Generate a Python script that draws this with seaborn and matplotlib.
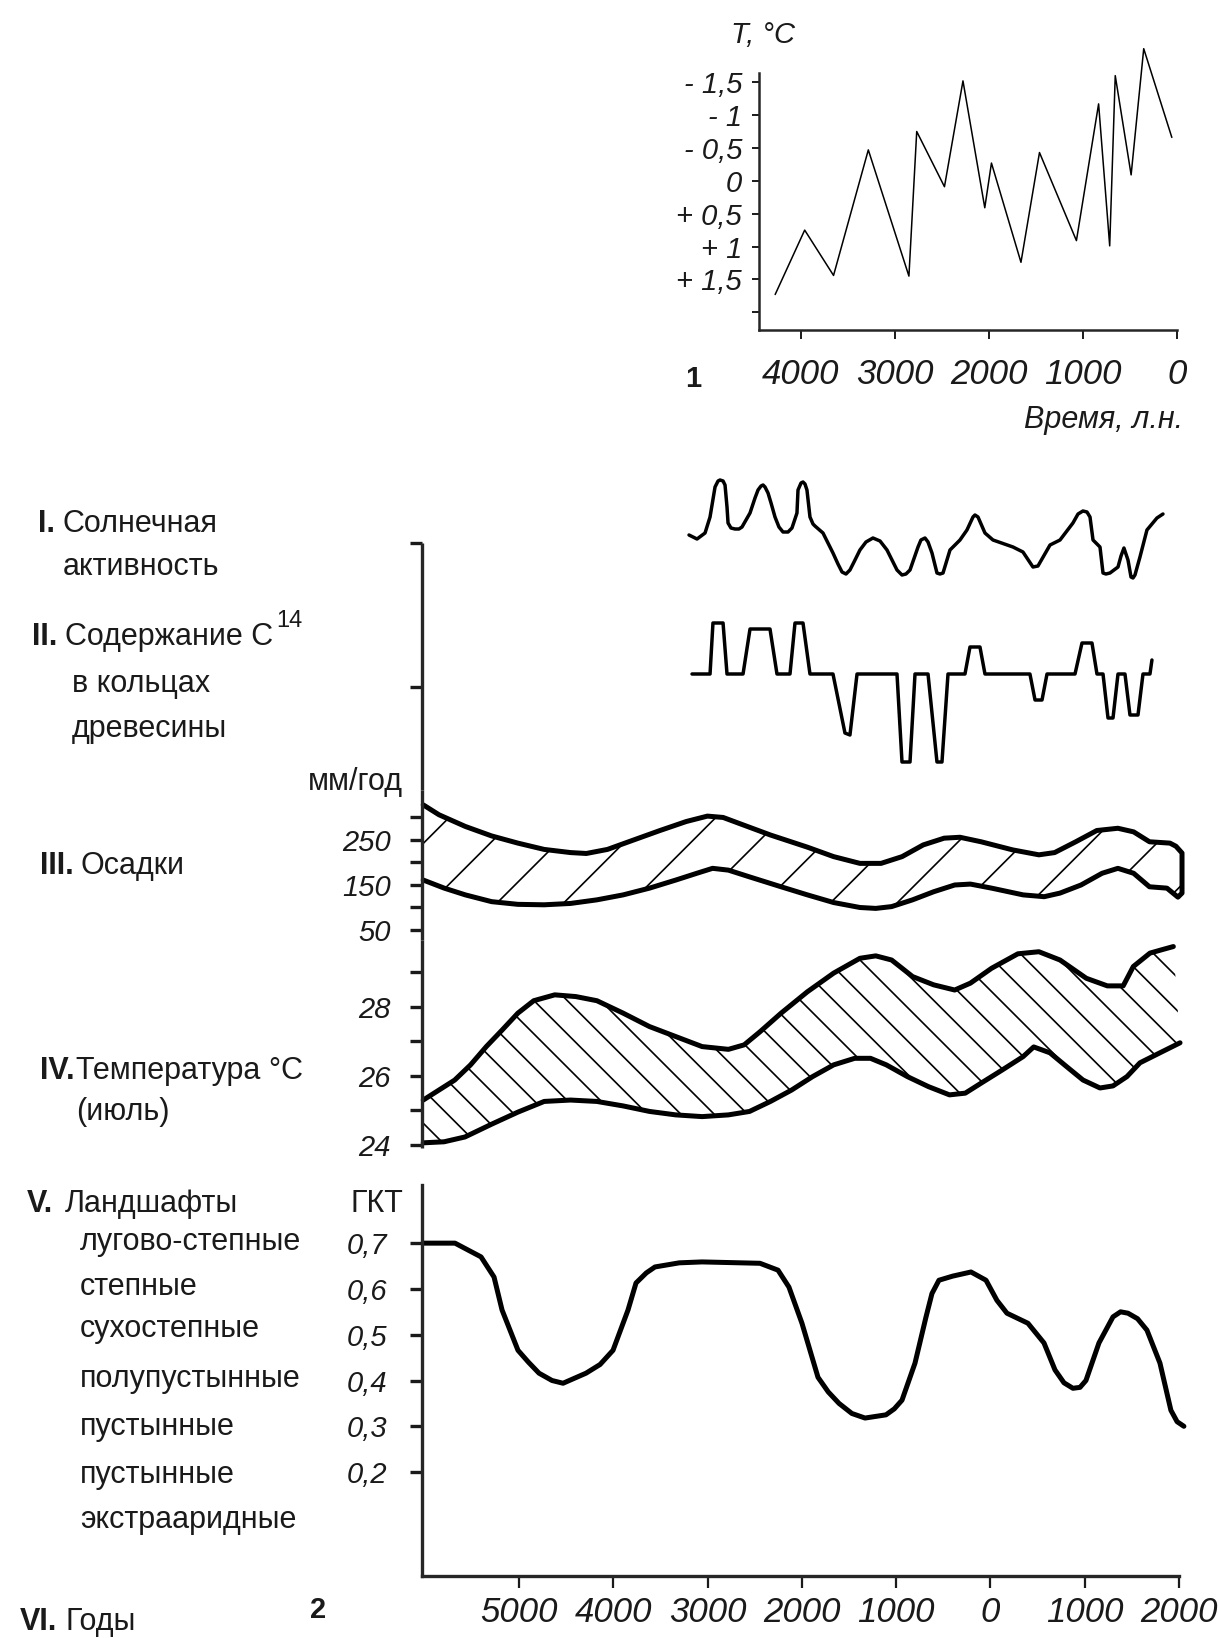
import matplotlib
matplotlib.use("Agg")
import matplotlib.pyplot as plt
import seaborn as sns
import numpy as np
from matplotlib import font_manager

# ---------- 1: temperature deviation, years BP ----------
t1_years = [4275, 3961, 3654, 3284, 2852, 2769, 2474, 2277, 2045, 1974,
            1660, 1463, 1070, 834, 716, 657, 488, 354, 55]
t1_temp = [1.73, 0.75, 1.44, -0.47, 1.45, -0.75, 0.09, -1.52, 0.41, -0.27,
           1.24, -0.43, 0.91, -1.17, 0.99, -1.60, -0.09, -2.01, -0.66]
t1_xticks = [4000, 3000, 2000, 1000, 0]
t1_yticks = [-1.5, -1.0, -0.5, 0.0, 0.5, 1.0, 1.5, 2.0]
t1_ylabels = ["- 1,5", "- 1", "- 0,5", "0", "+ 0,5", "+ 1", "+ 1,5", ""]

# ---------- 2: calendar years (BC negative) ----------
# I. solar activity (relative units)
sun_years = [-3197, -3112, -3027, -2974, -2921, -2889, -2868, -2836, -2815, -2794,
             -2783, -2752, -2709, -2667, -2635, -2550, -2497, -2465, -2433, -2412,
             -2391, -2359, -2327, -2285, -2243, -2200, -2147, -2105, -2052, -2041,
             -2009, -1988, -1967, -1946, -1914, -1882, -1861, -1776, -1670, -1617,
             -1574, -1532, -1490, -1447, -1384, -1320, -1246, -1171, -1097, -991,
             -938, -896, -853, -768, -737, -694, -662, -620, -567, -535,
             -503, -429, -323, -249, -185, -164, -132, -58, 27, 239,
             345, 451, 504, 632, 738, 875, 929, 981, 1024, 1056,
             1088, 1162, 1194, 1225, 1268, 1353, 1385, 1416, 1459, 1491,
             1512, 1533, 1586, 1660, 1766, 1830]
sun_vals = [4.5, 4.1, 4.7, 6.3, 9.3, 9.9, 10.0, 9.9, 9.5, 7.3,
            5.7, 5.2, 5.1, 5.1, 5.3, 6.7, 8.2, 9.0, 9.4, 9.5,
            9.3, 8.7, 7.7, 6.3, 5.3, 4.8, 4.8, 5.2, 6.7, 9.0,
            9.7, 9.8, 9.6, 9.0, 6.3, 5.6, 5.4, 4.7, 2.7, 1.6,
            0.8, 0.6, 1.0, 1.8, 3.0, 3.8, 4.2, 3.9, 3.0, 1.0,
            0.5, 0.6, 1.0, 3.3, 4.0, 4.2, 3.8, 2.7, 0.7, 0.6,
            0.7, 3.0, 4.0, 5.0, 6.3, 6.5, 6.3, 4.7, 4.0, 3.3,
            2.8, 1.3, 1.4, 3.5, 4.0, 5.7, 6.6, 6.9, 6.8, 6.3,
            4.0, 3.3, 0.7, 0.6, 0.7, 1.3, 2.4, 3.2, 2.0, 0.3,
            0.2, 0.5, 2.3, 5.0, 6.2, 6.6]

# II. C14 in tree rings (relative units)
c14_years = [-3165, -2974, -2943, -2836, -2794, -2624, -2550, -2338, -2264, -2126,
             -2073, -1988, -1914, -1670, -1543, -1490, -1415, -991, -938, -853,
             -800, -662, -567, -514, -450, -270, -217, -111, -58, 419,
             473, 547, 600, 897, 971, 1077, 1130, 1194, 1247, 1300,
             1353, 1427, 1480, 1565, 1618, 1692, 1713]
c14_vals = [0, 0, 5.1, 5.1, 0, 0, 4.5, 4.5, 0, 0,
            5.1, 5.1, 0, 0, -5.9, -6.1, 0, 0, -8.8, -8.8,
            0, 0, -8.8, -8.8, 0, 0, 2.7, 2.7, 0, 0,
            -2.6, -2.6, 0, 0, 3.1, 3.1, 0, 0, -4.4, -4.4,
            0, 0, -4.1, -4.1, 0, 0, 1.4]

# III. precipitation, mm/yr (upper and lower limits)
pr_up_years = [-6016, -5849, -5569, -5291, -5012, -4733, -4454, -4286, -4062, -3784,
               -3505, -3226, -3002, -2835, -2668, -2333, -1941, -1663, -1384, -1160,
               -937, -713, -491, -323, -99, 235, 514, 681, 905, 1128,
               1352, 1519, 1687, 1904, 1968, 2032]
pr_up = [328, 306, 280, 259, 243, 229, 222, 220, 229, 250,
         271, 291, 303, 300, 287, 261, 234, 213, 198, 198,
         213, 239, 254, 256, 246, 228, 217, 222, 246, 271,
         276, 268, 246, 243, 236, 221]
pr_lo_years = [-6016, -5793, -5569, -5291, -5012, -4733, -4454, -4174, -3896, -3616,
               -3337, -3114, -2947, -2779, -2555, -2220, -1941, -1663, -1384, -1216,
               -1048, -826, -602, -379, -212, 12, 347, 570, 738, 961,
               1184, 1352, 1519, 1687, 1872, 1936, 1989, 2032]
pr_lo = [161, 143, 128, 113, 107, 106, 109, 117, 128, 143,
         161, 176, 187, 183, 168, 146, 128, 111, 100, 98,
         102, 117, 135, 150, 152, 143, 128, 124, 132, 150,
         176, 187, 176, 146, 143, 132, 123, 132]

# IV. July temperature, deg C
tj_up_years = [-6016, -5849, -5682, -5514, -5347, -5179, -5012, -4844, -4621, -4398,
               -4174, -3896, -3616, -3337, -3058, -2779, -2612, -2444, -2220, -1941,
               -1663, -1384, -1216, -1048, -826, -602, -379, -212, 12, 291,
               514, 738, 1017, 1240, 1408, 1515, 1692, 1834, 1940]
tj_up = [25.30, 25.59, 25.88, 26.32, 26.85, 27.33, 27.82, 28.18, 28.35, 28.30,
         28.18, 27.82, 27.43, 27.14, 26.85, 26.77, 26.90, 27.28, 27.82, 28.44,
         28.98, 29.41, 29.48, 29.36, 28.88, 28.64, 28.49, 28.69, 29.12, 29.54,
         29.60, 29.36, 28.83, 28.61, 28.61, 29.17, 29.56, 29.67, 29.75]
tj_lo_years = [-6016, -5795, -5573, -5291, -5012, -4733, -4454, -4175, -3896, -3616,
               -3337, -3058, -2779, -2555, -2333, -2109, -1886, -1663, -1440, -1272,
               -1104, -881, -658, -434, -267, -99, 124, 347, 459, 631,
               812, 982, 1162, 1300, 1448, 1586, 1798, 2011]
tj_lo = [24.06, 24.09, 24.23, 24.60, 24.95, 25.26, 25.30, 25.26, 25.13, 24.97,
         24.87, 24.82, 24.87, 24.97, 25.26, 25.59, 25.98, 26.32, 26.51, 26.51,
         26.32, 25.98, 25.69, 25.45, 25.50, 25.79, 26.17, 26.56, 26.84, 26.67,
         26.26, 25.88, 25.65, 25.71, 25.98, 26.38, 26.67, 26.96]

# V. landscapes, GKT (hydrothermal coefficient)
gkt_years = [-6018, -5679, -5403, -5265, -5180, -5011, -4900, -4788, -4650, -4533,
             -4289, -4140, -4003, -3844, -3759, -3650, -3558, -3300, -3059, -2444,
             -2253, -2137, -1999, -1829, -1720, -1606, -1470, -1330, -1108, -1020,
             -938, -800, -683, -620, -546, -400, -206, -47, 69, 175,
             398, 568, 685, 780, 875, 950, 1013, 1151, 1300, 1380,
             1459, 1560, 1660, 1798, 1914, 1980, 2052]
gkt = [0.700, 0.700, 0.670, 0.626, 0.554, 0.466, 0.440, 0.416, 0.400, 0.394,
       0.416, 0.435, 0.466, 0.554, 0.613, 0.635, 0.648, 0.657, 0.659, 0.656,
       0.641, 0.604, 0.525, 0.407, 0.375, 0.350, 0.328, 0.318, 0.325, 0.338,
       0.357, 0.438, 0.539, 0.590, 0.619, 0.628, 0.637, 0.619, 0.575, 0.547,
       0.525, 0.482, 0.423, 0.395, 0.383, 0.385, 0.400, 0.482, 0.539, 0.550,
       0.547, 0.535, 0.510, 0.438, 0.335, 0.310, 0.300]

pr_ticks = [50, 100, 150, 200, 250, 300]
pr_labels = ["50", "", "150", "", "250", ""]
tj_ticks = [24, 25, 26, 27, 28, 29]
tj_labels = ["24", "", "26", "", "28", ""]
gkt_ticks = [0.2, 0.3, 0.4, 0.5, 0.6, 0.7]
gkt_labels = ["0,2", "0,3", "0,4", "0,5", "0,6", "0,7"]
year_ticks = [-5000, -4000, -3000, -2000, -1000, 0, 1000, 2000]
year_labels = ["5000", "4000", "3000", "2000", "1000", "0", "1000", "2000"]
landscapes = ["лугово-степные", "степные", "сухостепные", "полупустынные",
              "пустынные", "пустынные", "экстрааридные"]

# ---------- figure ----------
W, H, DPI = 1218, 1638, 200
sns.set_style("ticks")
names = {f.name for f in font_manager.fontManager.ttflist}
NUM = "Liberation Sans Narrow" if "Liberation Sans Narrow" in names else "Liberation Sans"
plt.rcParams["font.family"] = ["Liberation Sans", "DejaVu Sans"]
plt.rcParams["hatch.linewidth"] = 0.6
plt.rcParams["hatch.color"] = "black"

fig = plt.figure(figsize=(W / DPI, H / DPI), dpi=DPI)
fig.patch.set_facecolor("white")


def box(x0, y0, x1, y1):
    ax = fig.add_axes([x0 / W, 1 - y1 / H, (x1 - x0) / W, (y1 - y0) / H])
    ax.set_facecolor("none")
    return ax


def txt(x, y, s, **kw):
    kw.setdefault("va", "baseline")
    kw.setdefault("color", "#1a1a1a")
    return fig.text(x / W, 1 - y / H, s, **kw)


def line(ax, x, y, lw):
    sns.lineplot(x=x, y=y, ax=ax, sort=False, estimator=None, color="black",
                 lw=lw, clip_on=False, solid_joinstyle="round", solid_capstyle="round")


num_kw = dict(fontfamily=NUM, fontstyle="italic")

# ----- chart 1 -----
ax1 = box(759, 73, 1177, 330)
line(ax1, t1_years, t1_temp, 0.55)
ax1.set_xlim(4447, 0)
ax1.set_ylim(2.27, -1.64)
ax1.set_xticks(t1_xticks)
ax1.set_xticklabels([str(v) for v in t1_xticks], fontsize=12.5, **num_kw)
ax1.set_yticks(t1_yticks)
ax1.set_yticklabels(t1_ylabels, fontsize=10.5, **num_kw)
sns.despine(ax=ax1)
for s in ("left", "bottom"):
    ax1.spines[s].set_linewidth(0.9)
ax1.tick_params(axis="x", length=3.2, width=0.7, pad=7, colors="#1a1a1a")
ax1.tick_params(axis="y", length=2.6, width=0.7, pad=3.5, colors="#1a1a1a")
ax1.set_xlabel("")
ax1.set_ylabel("")
txt(731, 43, "T, °C", fontsize=10.5, fontstyle="italic")
txt(693, 387, "1", fontsize=10.5, fontweight="bold", ha="center")
txt(1183, 428, "Время, л.н.", fontsize=11, fontstyle="italic", ha="right")

# ----- chart 2 -----
XL = (-6029, 2000)
LW_AX = 1.2


def left_axis(ax):
    ax.set_xlim(*XL)
    sns.despine(ax=ax, bottom=True)
    ax.spines["left"].set_linewidth(LW_AX)
    ax.spines["left"].set_capstyle("butt")
    ax.set_xticks([])
    ax.tick_params(axis="y", length=4.3, width=LW_AX, pad=7, labelsize=10.5,
                   colors="#1a1a1a")


ax_up = box(422, 543, 1179, 790)
left_axis(ax_up)
ax_up.set_ylim(0, 1)
ax_up.set_yticks([0.417, 1.0])
ax_up.set_yticklabels(["", ""])

ax_sun = box(422, 470, 1179, 590)
line(ax_sun, sun_years, sun_vals, 1.25)
ax_sun.set_xlim(*XL)
ax_sun.set_ylim(-1, 11)
ax_sun.axis("off")

ax_c14 = box(422, 600, 1179, 780)
line(ax_c14, c14_years, c14_vals, 1.25)
ax_c14.set_xlim(*XL)
ax_c14.set_ylim(-10.6, 7.4)
ax_c14.axis("off")

ax_pr = box(422, 790, 1179, 940)
left_axis(ax_pr)
ax_pr.fill(np.r_[pr_up_years, pr_lo_years[::-1]], np.r_[pr_up, pr_lo[::-1]],
           facecolor="none", edgecolor="black", hatch="/", lw=0, clip_on=False)
line(ax_pr, np.r_[pr_up_years, pr_lo_years[::-1]], np.r_[pr_up, pr_lo[::-1]], 1.8)
ax_pr.set_ylim(27.8, 361)
ax_pr.set_yticks(pr_ticks)
ax_pr.set_yticklabels(pr_labels, **num_kw)

ax_t = box(422, 940, 1179, 1148)
left_axis(ax_t)
ax_t.fill(np.r_[tj_up_years, tj_lo_years[::-1]], np.r_[tj_up, tj_lo[::-1]],
          facecolor="none", edgecolor="black", hatch="\\\\", lw=0, clip_on=False)
line(ax_t, tj_up_years, tj_up, 1.8)
line(ax_t, tj_lo_years, tj_lo, 1.8)
ax_t.set_ylim(23.91, 29.94)
ax_t.set_yticks(tj_ticks)
ax_t.set_yticklabels(tj_labels, **num_kw)

ax_g = box(422, 1185, 1179, 1576)
line(ax_g, gkt_years, gkt, 1.8)
ax_g.set_xlim(*XL)
ax_g.set_ylim(-0.027, 0.827)
sns.despine(ax=ax_g)
for s in ("left", "bottom"):
    ax_g.spines[s].set_linewidth(LW_AX)
ax_g.set_yticks(gkt_ticks)
ax_g.set_yticklabels(gkt_labels, fontsize=10.5, **num_kw)
ax_g.set_xticks(year_ticks)
ax_g.set_xticklabels(year_labels, fontsize=12.5, **num_kw)
ax_g.tick_params(axis="y", length=4.3, width=LW_AX, pad=8, colors="#1a1a1a")
ax_g.tick_params(axis="x", length=4.3, width=0.8, pad=3, colors="#1a1a1a")

for ax in (ax_up, ax_sun, ax_c14, ax_pr, ax_t, ax_g):
    ax.set_xlabel("")
    ax.set_ylabel("")

# ----- left-hand labels -----
F = 11
txt(38, 532, "I.", fontsize=F, fontweight="bold")
txt(63, 532, "Солнечная", fontsize=F)
txt(63, 575, "активность", fontsize=F)
txt(32, 645, "II.", fontsize=F, fontweight="bold")
t_c = txt(65, 645, "Содержание С", fontsize=F)
renderer = fig.canvas.get_renderer()
bb = t_c.get_window_extent(renderer)
txt(bb.x1 + 3, 627, "14", fontsize=8.5)
txt(72, 692, "в кольцах", fontsize=F)
txt(72, 737, "древесины", fontsize=F)
txt(403, 790, "мм/год", fontsize=F, ha="right")
txt(40, 874, "III.", fontsize=F, fontweight="bold")
txt(81, 874, "Осадки", fontsize=F)
txt(40, 1079, "IV.", fontsize=F, fontweight="bold")
txt(76, 1079, "Температура °С", fontsize=F)
txt(76, 1120, "(июль)", fontsize=F)
txt(27, 1212, "V.", fontsize=F, fontweight="bold")
txt(65, 1212, "Ландшафты", fontsize=F)
txt(403, 1212, "ГКТ", fontsize=F, ha="right")
for y, s in zip([1250, 1295, 1337, 1387, 1435, 1483, 1528], landscapes):
    txt(80, y, s, fontsize=F)
txt(318, 1618, "2", fontsize=10.5, fontweight="bold", ha="center")
txt(20, 1630, "VI.", fontsize=F, fontweight="bold")
txt(65, 1630, "Годы", fontsize=F)

fig.savefig("out.png", dpi=DPI, facecolor="white")
